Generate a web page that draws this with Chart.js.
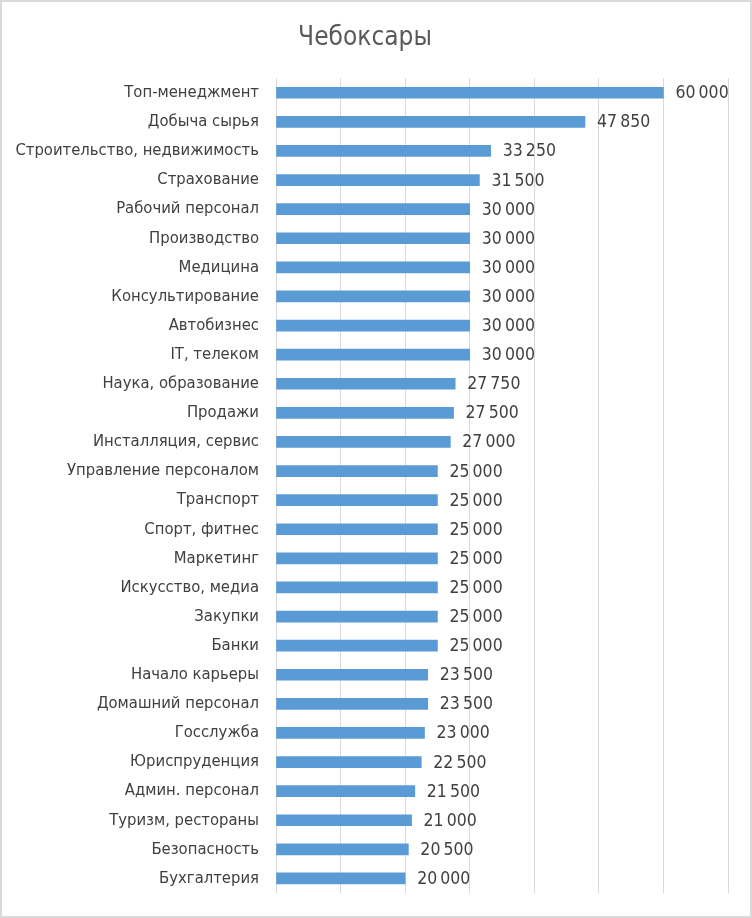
<!DOCTYPE html>
<html>
<head>
<meta charset="utf-8">
<script src="https://cdn.jsdelivr.net/npm/chart.js@4"></script>
<style>
  html, body { margin: 0; padding: 0; background: #fff; }
  #wrap { width: 752px; height: 918px; box-sizing: border-box; border: 2px solid #d9d9d9; }
  canvas { display: block; }
</style>
</head>
<body>
<div id="wrap"><canvas id="chart" width="748" height="914"></canvas></div>
<script>
// categories top to bottom
const categories = [
  'Топ-менеджмент', 'Добыча сырья', 'Строительство, недвижимость', 'Страхование',
  'Рабочий персонал', 'Производство', 'Медицина', 'Консультирование', 'Автобизнес',
  'IT, телеком', 'Наука, образование', 'Продажи', 'Инсталляция, сервис',
  'Управление персоналом', 'Транспорт', 'Спорт, фитнес', 'Маркетинг',
  'Искусство, медиа', 'Закупки', 'Банки', 'Начало карьеры', 'Домашний персонал',
  'Госслужба', 'Юриспруденция', 'Админ. персонал', 'Туризм, рестораны',
  'Безопасность', 'Бухгалтерия'
];
const salaries = [
  60000, 47850, 33250, 31500, 30000, 30000, 30000, 30000, 30000, 30000,
  27750, 27500, 27000, 25000, 25000, 25000, 25000, 25000, 25000, 25000,
  23500, 23500, 23000, 22500, 21500, 21000, 20500, 20000
];
const xTicks = [0, 10000, 20000, 30000, 40000, 50000, 60000, 70000];

const FONT = "'Liberation Sans Narrow', 'DejaVu Sans Condensed', sans-serif";
const fmt = v => String(v).replace(/\B(?=(\d{3})+(?!\d))/g, '\u202f');

const valueLabels = {
  id: 'valueLabels',
  afterDatasetsDraw(chart) {
    const ctx = chart.ctx;
    const meta = chart.getDatasetMeta(0);
    ctx.save();
    ctx.font = '17.5px ' + FONT;
    ctx.fillStyle = '#404040';
    ctx.textBaseline = 'middle';
    meta.data.forEach((bar, i) => {
      ctx.fillText(fmt(salaries[i]), bar.x + 12, bar.y + 1);
    });
    ctx.restore();
  }
};

new Chart(document.getElementById('chart'), {
  type: 'bar',
  data: {
    labels: categories,
    datasets: [{
      data: salaries,
      backgroundColor: '#5b9bd5',
      barThickness: 11
    }]
  },
  options: {
    indexAxis: 'y',
    responsive: false,
    animation: false,
    layout: { autoPadding: false, padding: { right: 22, bottom: 23, left: 0 } },
    plugins: {
      legend: { display: false },
      tooltip: { enabled: false },
      title: {
        display: true,
        text: 'Чебоксары',
        color: '#595959',
        font: { family: FONT, size: 26, weight: 'normal' },
        padding: { top: 21, bottom: 24 }
      }
    },
    scales: {
      x: {
        min: 0, max: 70000,
        afterBuildTicks: s => { s.ticks = xTicks.map(v => ({ value: v })); },
        ticks: { display: false },
        grid: { color: '#d9d9d9', drawTicks: false, lineWidth: 1 },
        border: { display: false },
        afterFit: s => { s.height = 0; }
      },
      y: {
        grid: { display: false, drawTicks: false },
        border: { display: false },
        ticks: {
          color: '#404040',
          padding: 17,
          font: { family: FONT, size: 16.5 }
        },
        // fixed label column, no extra room below the last label
        afterFit: s => { s.width = 274; s.paddingTop = 0; s.paddingBottom = 0; }
      }
    }
  },
  plugins: [valueLabels]
});
</script>
</body>
</html>
